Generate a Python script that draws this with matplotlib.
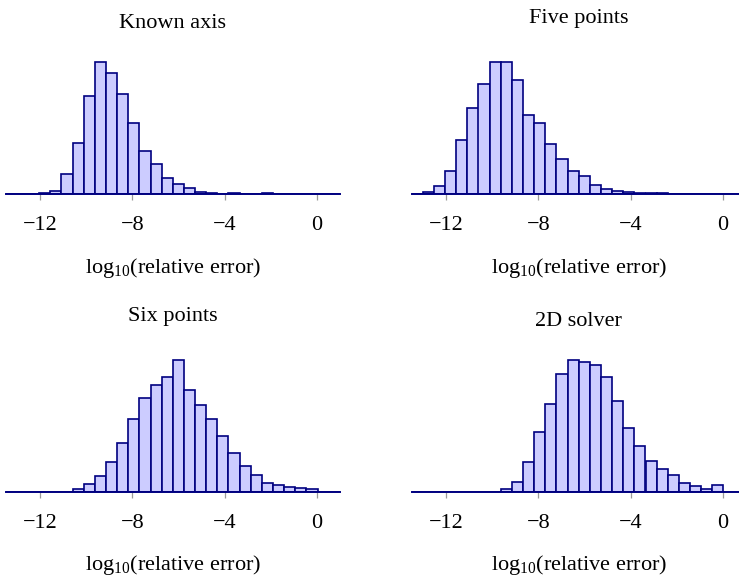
import numpy as np
import matplotlib
matplotlib.use("Agg")
import matplotlib.pyplot as plt
from matplotlib.font_manager import FontProperties

plt.rcParams["font.family"] = ["Liberation Serif", "DejaVu Serif"]
plt.rcParams["mathtext.fontset"] = "custom"
plt.rcParams["mathtext.rm"] = "Liberation Serif"
plt.rcParams["mathtext.it"] = "Liberation Serif:italic"
plt.rcParams["axes.unicode_minus"] = True

FONT_SIZE = 16

# Histogram bins shared by all four panels
x_min, x_max = -13.5, 1.0
n_bins = 30
bin_edges = np.linspace(x_min, x_max, n_bins + 1)

titles = ["Known axis", "Five points", "Six points", "2D solver"]

# Bin counts (relative frequencies) for each solver
counts_known_axis = [0, 0, 1, 3, 9, 60, 155, 295, 396, 365, 301, 213, 129, 91, 48,
                     31, 18, 6, 5, 2, 3, 2, 1, 3, 0, 0, 0, 0, 0, 0]
counts_five_points = [2, 7, 25, 71, 163, 260, 332, 396, 396, 343, 239, 213, 151, 107, 70,
                      54, 28, 15, 10, 6, 5, 5, 3, 1, 0, 2, 0, 2, 0, 0]
counts_six_points = [0, 0, 0, 1, 1, 1, 8, 24, 47, 90, 147, 218, 283, 321, 345,
                     396, 307, 260, 220, 169, 116, 77, 51, 28, 20, 14, 11, 10, 1, 0]
counts_2d_solver = [0, 0, 0, 0, 0, 0, 0, 1, 8, 31, 91, 181, 263, 353, 396,
                    389, 380, 344, 273, 193, 139, 94, 70, 51, 27, 19, 8, 20, 0, 0]
all_counts = [counts_known_axis, counts_five_points, counts_six_points, counts_2d_solver]

xticks = [-12, -8, -4, 0]
xlabel = "log$_{10}$(relative error)"

fill_color = "#ccccff"
edge_color = "#000080"
tick_color = "#9a9a9a"

W, H = 739, 579
fig = plt.figure(figsize=(W / 100, H / 100), dpi=100)

# Panel frames in pixels: (left, baseline from top, width)
panel_left = [5.8, 411.7, 5.8, 411.7]
panel_base = [194.3, 194.3, 492.0, 492.0]
panel_width = 334.0
peak_px = 132.0
axes_h_px = 140.0
title_gap_px = 166.0  # from baseline up to the bottom of the title

renderer = fig.canvas.get_renderer()
fp = FontProperties(family=["Liberation Serif"], size=FONT_SIZE)

for i in range(4):
    ax = fig.add_axes([panel_left[i] / W, (H - panel_base[i]) / H,
                       panel_width / W, axes_h_px / H])
    counts = np.asarray(all_counts[i], dtype=float)
    centers = 0.5 * (bin_edges[:-1] + bin_edges[1:])
    ax.hist(centers, bins=bin_edges, weights=counts, histtype="bar",
            facecolor=fill_color, edgecolor=edge_color, linewidth=1.2)
    ax.set_xlim(x_min, x_max)
    ax.set_ylim(0, counts.max() * axes_h_px / peak_px)
    ax.axhline(0, color=edge_color, lw=1.4, zorder=3, clip_on=False)
    for s in ax.spines.values():
        s.set_visible(False)
    ax.set_yticks([])
    ax.set_xticks(xticks)
    ax.set_xticklabels([f"\u2212{abs(t)}" if t < 0 else f"{t}" for t in xticks])
    ax.tick_params(axis="x", direction="out", length=4.5, width=0.9,
                   color=tick_color, pad=11, labelsize=FONT_SIZE)
    ax.set_xlabel(xlabel, fontsize=FONT_SIZE, labelpad=15)
    ax.patch.set_visible(False)

    # Title sits with its lowest ink on a common line above the axes
    w_px, h_px, d_px = renderer.get_text_width_height_descent(titles[i], fp, ismath=False)
    y_base = H - panel_base[i] + title_gap_px + d_px
    x_c = panel_left[i] + panel_width / 2
    fig.text(x_c / W, y_base / H, titles[i], ha="center", va="baseline",
             fontproperties=fp)

fig.savefig("out.png", dpi=100)
